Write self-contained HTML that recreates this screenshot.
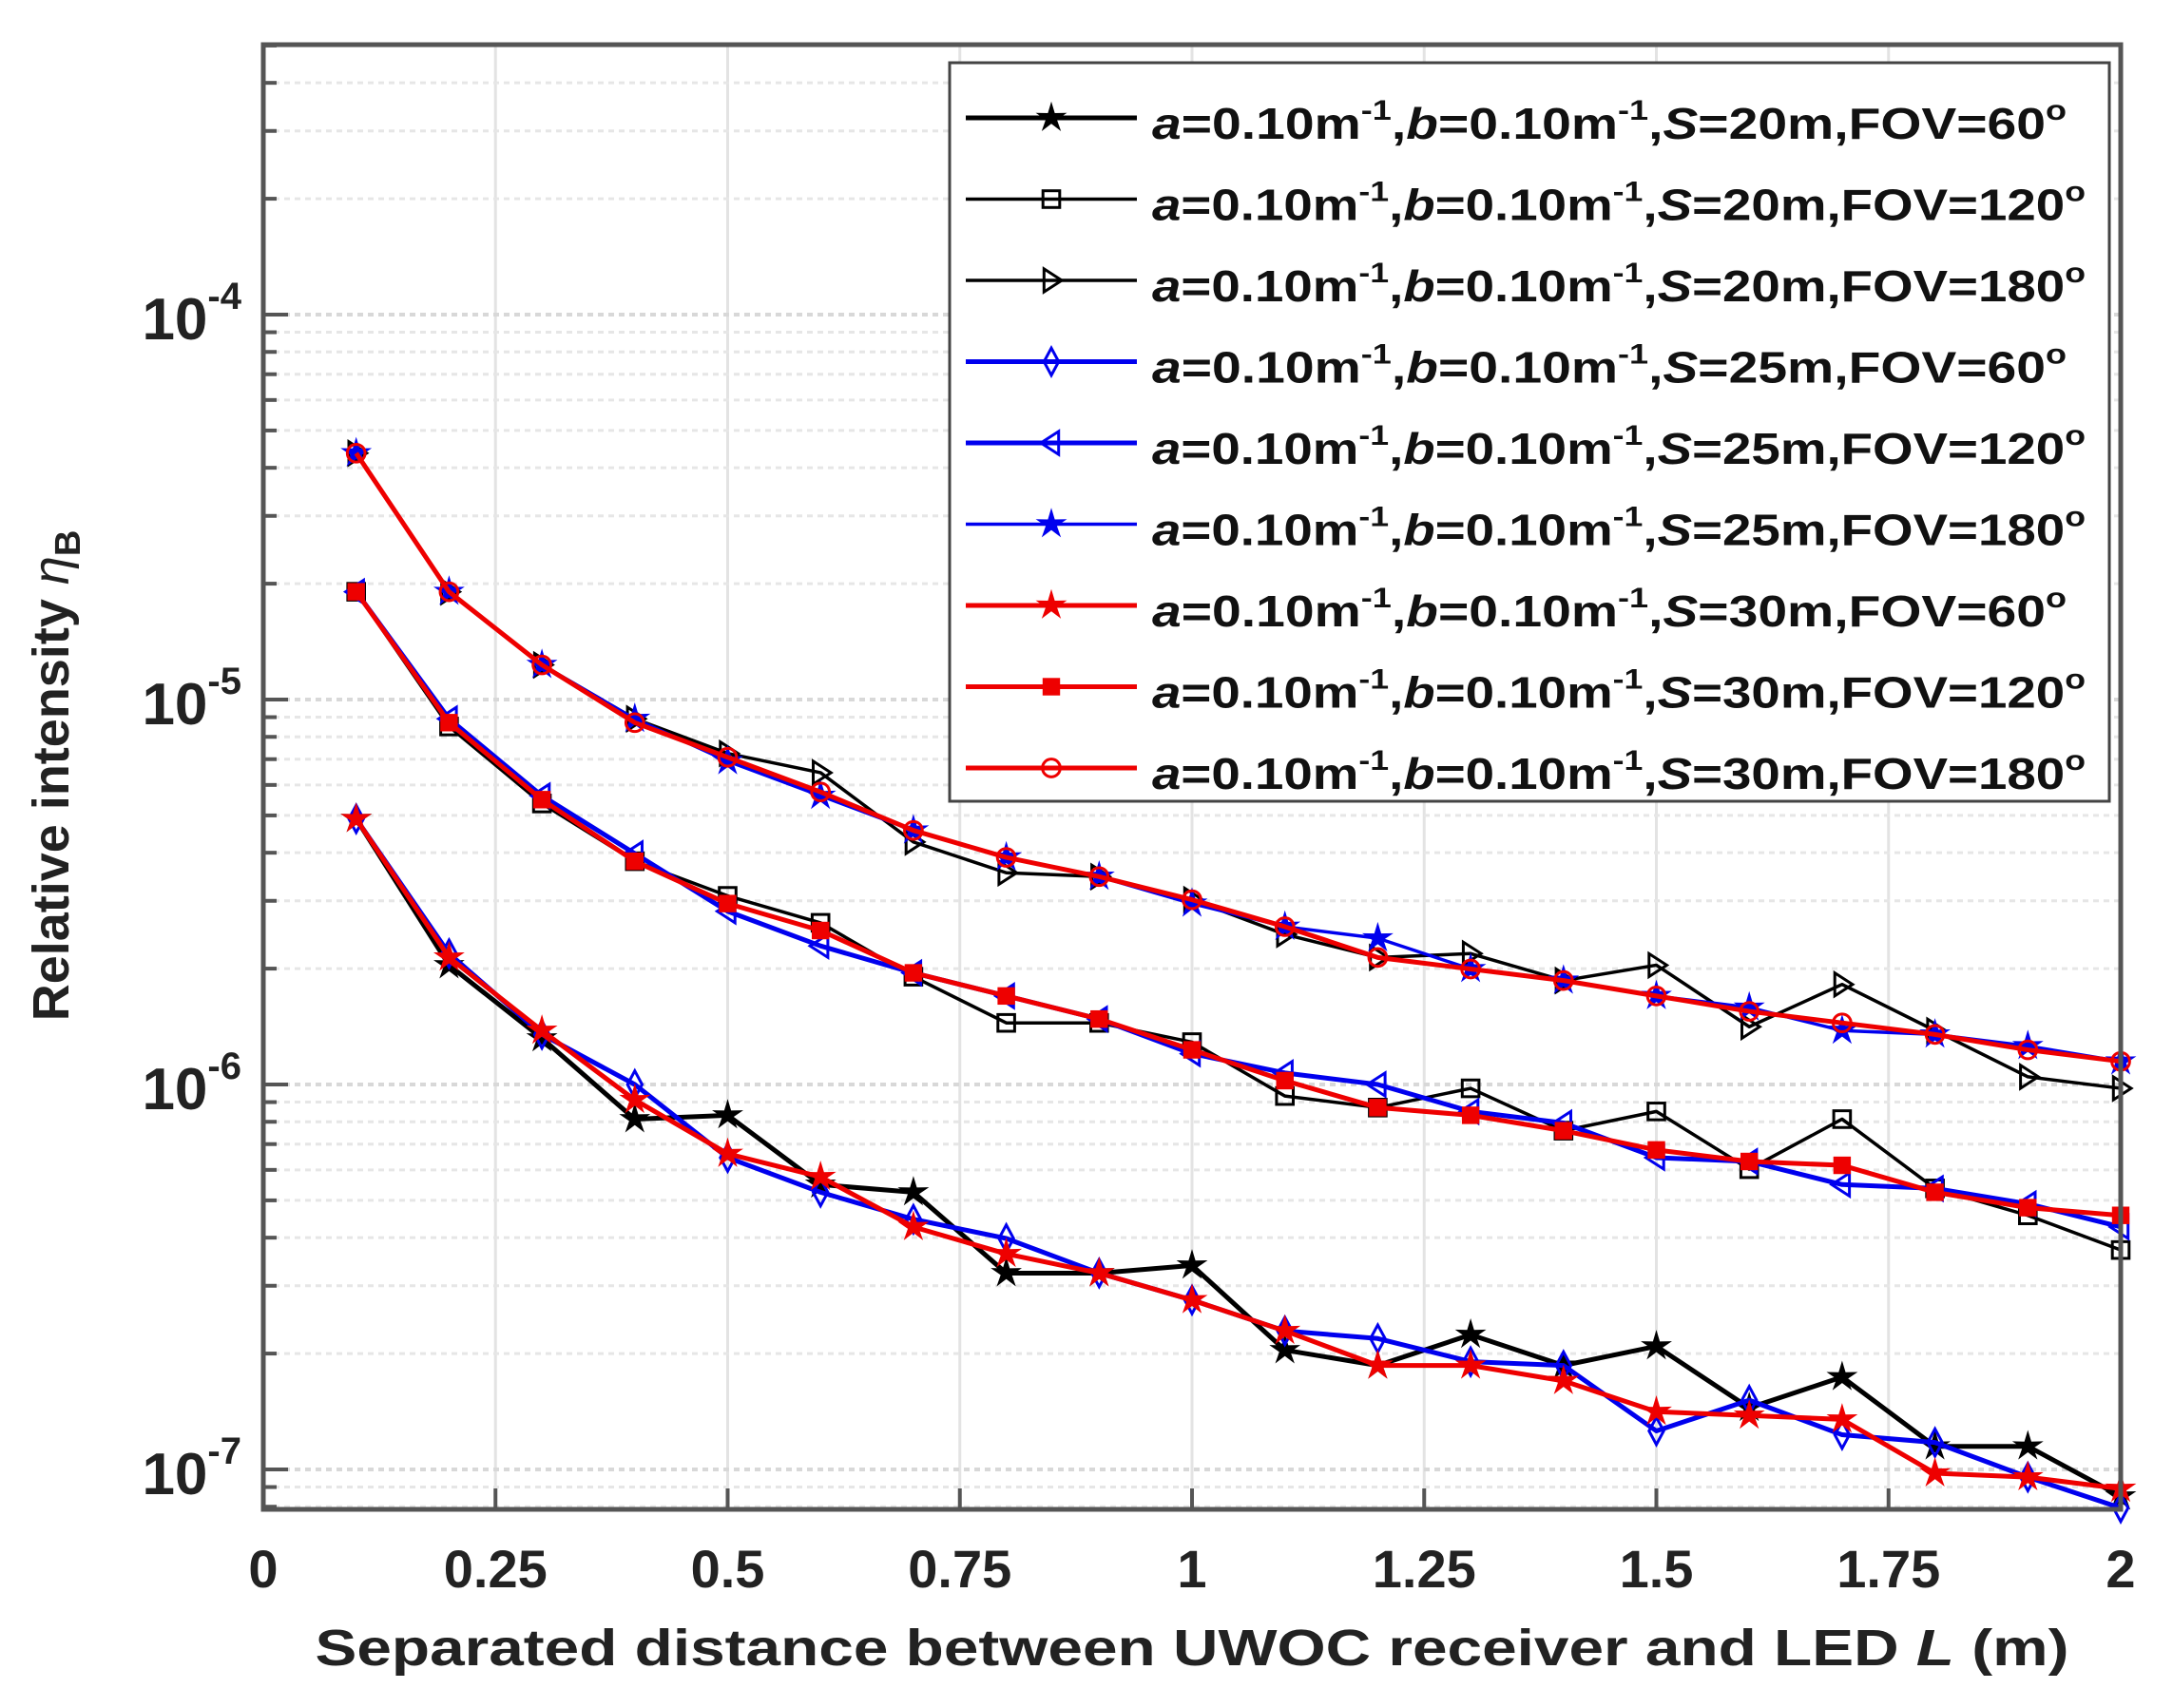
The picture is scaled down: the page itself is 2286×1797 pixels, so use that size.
<!DOCTYPE html>
<html><head><meta charset="utf-8"><style>
html,body{margin:0;padding:0;background:#fff}
svg{display:block;font-family:"Liberation Sans",Arial,sans-serif}
</style></head><body>
<svg id="chart" width="2286" height="1797" viewBox="0 0 2286 1797" xmlns="http://www.w3.org/2000/svg">
<rect width="2286" height="1797" fill="#fff"/>
<g id="grid"></g>
<g id="series"></g>
<rect x="277" y="47" width="1954" height="1541" fill="none" stroke="#555" stroke-width="5"/>
<g id="axes"></g>
<g id="legend"></g>
<text x="1254" y="1752" font-size="54" font-weight="bold" text-anchor="middle" textLength="1845" lengthAdjust="spacingAndGlyphs" fill="#222">Separated distance between UWOC receiver and LED <tspan font-style="italic">L</tspan> (m)</text>
<text transform="translate(72,816) rotate(-90)" font-size="54" font-weight="bold" text-anchor="middle" fill="#222">Relative intensity <tspan font-style="italic" font-weight="normal">η</tspan><tspan font-size="38" dy="12">B</tspan></text>
</svg>
<script>
const xValues=[0.1,0.2,0.3,0.4,0.5,0.6,0.7,0.8,0.9,1.0,1.1,1.2,1.3,1.4,1.5,1.6,1.7,1.8,1.9,2.0];
// log10 of relative intensity for each series
const s20fov60=[-5.31,-5.69,-5.88,-6.09,-6.08,-6.26,-6.28,-6.49,-6.49,-6.47,-6.69,-6.73,-6.65,-6.73,-6.68,-6.84,-6.76,-6.94,-6.94,-7.07];
const s20fov120=[-4.72,-5.07,-5.27,-5.42,-5.51,-5.58,-5.72,-5.84,-5.84,-5.89,-6.03,-6.06,-6.01,-6.12,-6.07,-6.22,-6.09,-6.27,-6.34,-6.43];
const s20fov180=[-4.36,-4.72,-4.91,-5.05,-5.14,-5.19,-5.37,-5.45,-5.46,-5.52,-5.61,-5.67,-5.66,-5.73,-5.69,-5.85,-5.74,-5.86,-5.98,-6.01];
const s25fov60=[-5.31,-5.66,-5.87,-6.00,-6.19,-6.28,-6.35,-6.40,-6.49,-6.56,-6.64,-6.66,-6.72,-6.73,-6.90,-6.82,-6.91,-6.93,-7.02,-7.10];
const s25fov120=[-4.72,-5.05,-5.25,-5.40,-5.55,-5.64,-5.71,-5.77,-5.83,-5.92,-5.97,-6.00,-6.07,-6.10,-6.19,-6.20,-6.26,-6.27,-6.31,-6.37];
const s25fov180=[-4.36,-4.72,-4.91,-5.05,-5.16,-5.25,-5.34,-5.41,-5.46,-5.53,-5.59,-5.62,-5.70,-5.73,-5.77,-5.80,-5.86,-5.87,-5.90,-5.94];
const s30fov60=[-5.31,-5.67,-5.86,-6.04,-6.18,-6.24,-6.37,-6.44,-6.49,-6.56,-6.64,-6.73,-6.73,-6.77,-6.85,-6.86,-6.87,-7.01,-7.02,-7.05];
const s30fov120=[-4.72,-5.06,-5.26,-5.42,-5.53,-5.60,-5.71,-5.77,-5.83,-5.91,-5.99,-6.06,-6.08,-6.12,-6.17,-6.20,-6.21,-6.28,-6.32,-6.34];
const s30fov180=[-4.36,-4.72,-4.91,-5.06,-5.15,-5.24,-5.34,-5.41,-5.46,-5.52,-5.59,-5.67,-5.70,-5.73,-5.77,-5.81,-5.84,-5.87,-5.91,-5.94];
const xTicks=[0,0.25,0.5,0.75,1,1.25,1.5,1.75,2];
const xTickLabels=["0","0.25","0.5","0.75","1","1.25","1.5","1.75","2"];
const yDecades=[-4,-5,-6,-7];
const legendLabels=["S=20m,FOV=60°","S=20m,FOV=120°","S=20m,FOV=180°","S=25m,FOV=60°","S=25m,FOV=120°","S=25m,FOV=180°","S=30m,FOV=60°","S=30m,FOV=120°","S=30m,FOV=180°"];

const NS="http://www.w3.org/2000/svg";
const L=277,R=2231,T=47,B=1588;
const X=v=>L+(v/2)*(R-L);
const Y=e=>331+(-4-e)*405;
function mk(tag,attrs,parent){const el=document.createElementNS(NS,tag);for(const k in attrs)el.setAttribute(k,attrs[k]);parent.appendChild(el);return el;}

const grid=document.getElementById('grid');
xTicks.forEach(t=>{if(t>0&&t<2){const g=mk('line',{x1:X(t),x2:X(t),y1:T,y2:B,stroke:'#e3e3e3','stroke-width':3},grid);

}});
for(let d=-8;d<=-4;d++){for(let m=1;m<=9;m++){const e=d+Math.log10(m);const y=Y(e);if(y<T||y>B)continue;
const g=mk('line',{x1:L,x2:R,y1:y,y2:y,stroke:m==1?'#d8d8d8':'#e6e6e6','stroke-width':m==1?4:3,'stroke-dasharray':'6 5'},grid);


const tk=mk('line',{x1:L,x2:L+(m==1?26:14),y1:y,y2:y,stroke:'#555','stroke-width':4},grid);

}}

const axes=document.getElementById('axes');
xTicks.forEach((t,i)=>{const tx=mk('text',{x:X(t),y:1670,'font-size':56,'text-anchor':'middle',fill:'#222','font-weight':'bold'},axes);tx.textContent=xTickLabels[i];


const tk=mk('line',{x1:X(t),x2:X(t),y1:B,y2:B-22,stroke:'#555','stroke-width':4},axes);

});
yDecades.forEach(d=>{const tx=mk('text',{x:254,y:Y(d)+26,'font-size':62,'text-anchor':'end',fill:'#222','font-weight':'bold'},axes);


tx.innerHTML='10<tspan font-size="40" dy="-32">'+d+'</tspan>';});

function marker(type,x,y,color,parent){let el;const s=11;
if(type==='star'||type==='hex'){const pts=[];for(let i=0;i<10;i++){const r=i%2?s*0.45:s*1.25;const a=-Math.PI/2+i*Math.PI/5;pts.push((x+r*Math.cos(a)).toFixed(1)+','+(y+r*Math.sin(a)).toFixed(1));}
el=mk('polygon',{points:pts.join(' '),fill:color,stroke:color,'stroke-width':2},parent);}
else if(type==='square'){el=mk('rect',{x:x-s*0.8,y:y-s*0.8,width:s*1.6,height:s*1.6,fill:'none',stroke:color,'stroke-width':3},parent);}
else if(type==='fsquare'){el=mk('rect',{x:x-s*0.7,y:y-s*0.7,width:s*1.4,height:s*1.4,fill:color,stroke:color,'stroke-width':3},parent);}
else if(type==='tright'){el=mk('polygon',{points:`${x-s*0.7},${y-s*1.1} ${x+s},${y} ${x-s*0.7},${y+s*1.1}`,fill:'none',stroke:color,'stroke-width':3},parent);}
else if(type==='tleft'){el=mk('polygon',{points:`${x+s*0.7},${y-s*1.1} ${x-s},${y} ${x+s*0.7},${y+s*1.1}`,fill:'none',stroke:color,'stroke-width':3},parent);}
else if(type==='diamond'){el=mk('polygon',{points:`${x},${y-s*1.3} ${x+s*0.7},${y} ${x},${y+s*1.3} ${x-s*0.7},${y}`,fill:'none',stroke:color,'stroke-width':3},parent);}
else {el=mk('circle',{cx:x,cy:y,r:s*0.85,fill:'none',stroke:color,'stroke-width':3},parent);}

}

const seriesDefs=[
 {d:s20fov60,c:'#000',m:'star',w:5},{d:s20fov120,c:'#000',m:'square',w:3.5},{d:s20fov180,c:'#000',m:'tright',w:3.5},
 {d:s25fov60,c:'#0000ee',m:'diamond',w:5},{d:s25fov120,c:'#0000ee',m:'tleft',w:5},{d:s25fov180,c:'#0000ee',m:'hex',w:3.5},
 {d:s30fov60,c:'#ee0000',m:'star',w:5},{d:s30fov120,c:'#ee0000',m:'fsquare',w:5},{d:s30fov180,c:'#ee0000',m:'circle',w:5}];
const sg=document.getElementById('series');
seriesDefs.forEach((sd,i)=>{const g=mk('g',{},sg);


const p=mk('polyline',{points:sd.d.map((v,j)=>X(xValues[j])+','+Y(v)).join(' '),fill:'none',stroke:sd.c,'stroke-width':sd.w,'stroke-linejoin':'round'},g);


sd.d.forEach((v,j)=>marker(sd.m,X(xValues[j]),Y(v),sd.c,g));});

const lg=document.getElementById('legend');
const box=mk('rect',{x:999,y:66,width:1220,height:777,fill:'#fff',stroke:'#444','stroke-width':3},lg);


seriesDefs.forEach((sd,i)=>{const y=124+i*85.5;const g=mk('g',{},lg);


mk('line',{x1:1016,x2:1196,y1:y,y2:y,stroke:sd.c,'stroke-width':sd.w},g);
marker(sd.m,1106,y,sd.c,g);
const t=mk('text',{x:1212,y:y+22,'font-size':46,fill:'#111','font-weight':'bold',textLength:legendLabels[i].includes('120')||legendLabels[i].includes('180')?982:962,lengthAdjust:'spacingAndGlyphs'},g);
const parts=legendLabels[i].split(',');
t.innerHTML='<tspan font-style="italic">a</tspan>=0.10m<tspan font-size="30" dy="-20">-1</tspan><tspan dy="20">,</tspan><tspan font-style="italic">b</tspan>=0.10m<tspan font-size="30" dy="-20">-1</tspan><tspan dy="20">,</tspan><tspan font-style="italic">S</tspan>'+parts[0].slice(1)+','+parts[1].replace('°','<tspan font-size="30" dy="-20">o</tspan>');});
</script>
</body></html>
